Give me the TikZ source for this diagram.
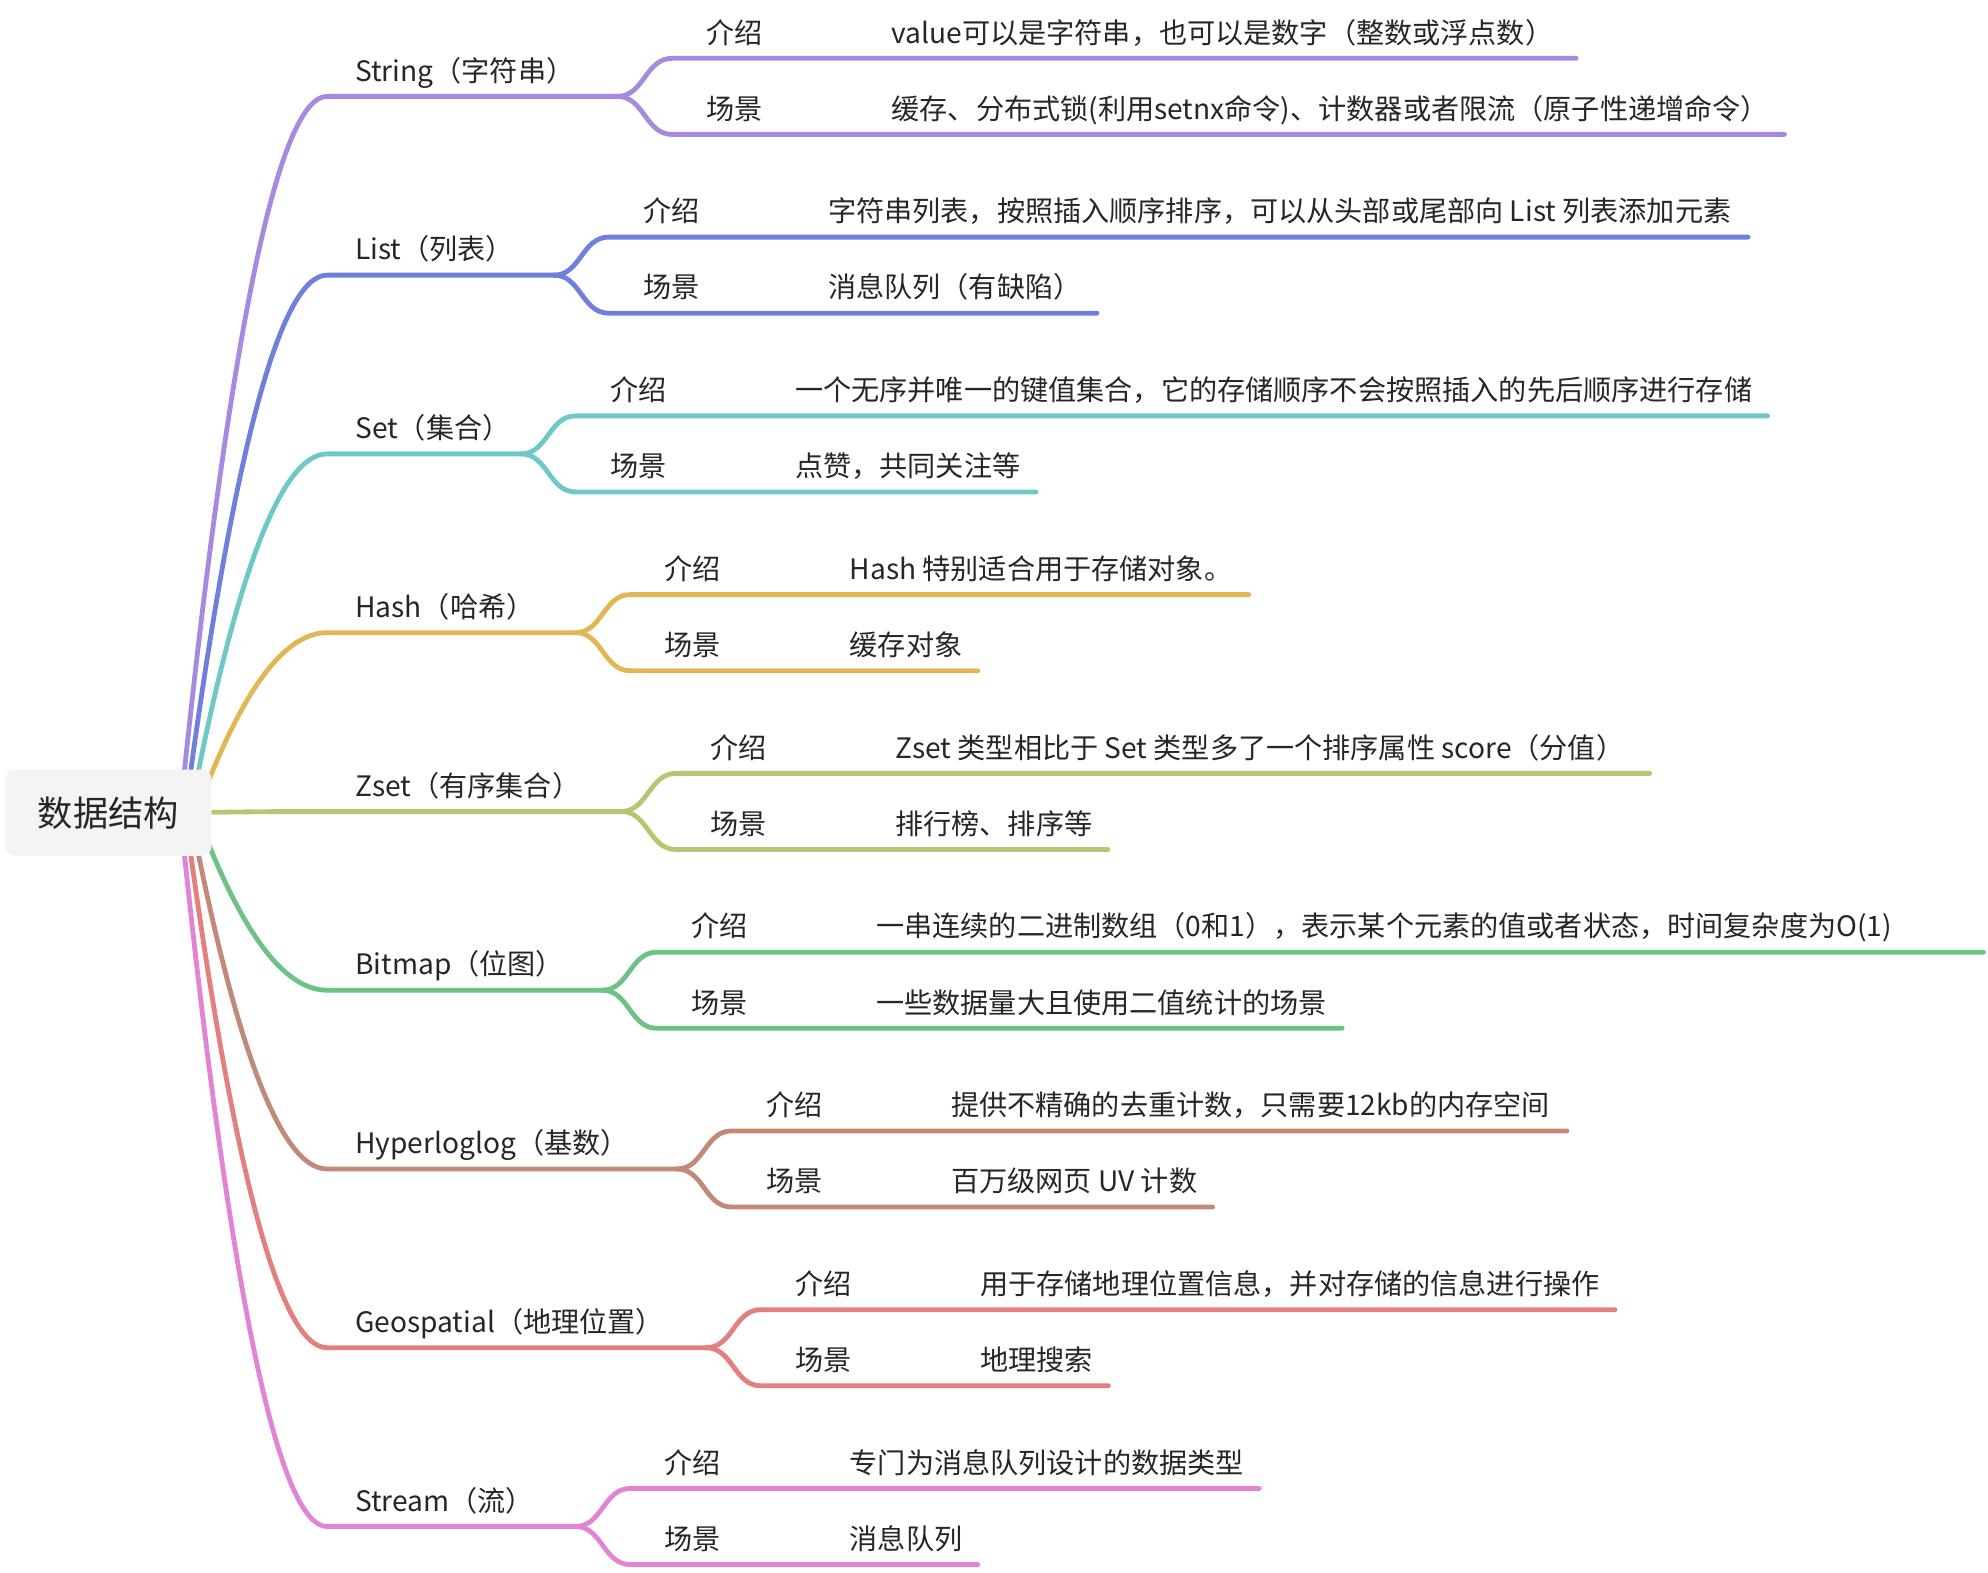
\documentclass[tikz,border=0pt]{standalone}
\usepackage{fontspec}
\setmainfont{Noto Sans CJK SC}
\usetikzlibrary{calc,backgrounds}
\definecolor{txt}{HTML}{262626}
\definecolor{rootfill}{HTML}{F4F4F4}
\definecolor{cString}{HTML}{A68AE0}
\definecolor{cList}{HTML}{6F7FDB}
\definecolor{cSet}{HTML}{6EC8C6}
\definecolor{cHash}{HTML}{E1B756}
\definecolor{cZset}{HTML}{B5C770}
\definecolor{cBitmap}{HTML}{6FC285}
\definecolor{cHyper}{HTML}{C28978}
\definecolor{cGeo}{HTML}{E47F7F}
\definecolor{cStream}{HTML}{E184D6}
\tikzset{
  mmtext/.style={text=txt, inner sep=0pt, font=\fontsize{22.2}{27}\selectfont},
  rootbox/.style={fill=rootfill, rounded corners=8pt, minimum width=163pt,
    minimum height=68pt, inner sep=0pt, text=txt, font=\fontsize{27.8}{32}\selectfont},
  mmline/.style={line width=3.8pt, line cap=round, line join=round},
}
% #1 index, #2 colour, #3 y of branch line, #4 start x inside root,
% #5 x of the 介绍/场景 labels, #6 branch text, #7 intro text, #8 scene text,
% #9 length of the intro line beyond its text
\newcommand\mmbranch[9]{%
  \node[mmtext, anchor=base west] (n#1) at (280,#3-12) {#6};
  \coordinate (f#1) at (#5-70,#3);
  \node[mmtext, anchor=base west] (a#1) at (#5,#3-42) {介绍};
  \node[mmtext, anchor=base west] (b#1) at (#5,#3+18) {场景};
  \node[mmtext, anchor=base west] (va#1) at ($(a#1.base west)+(146,0)$) {#7};
  \node[mmtext, anchor=base west] (vb#1) at ($(b#1.base west)+(146,0)$) {#8};
  \coordinate (s#1) at ($(root.center)+(#4-85.5,0)$);
  \coordinate (e#1) at (258,#3);
  \coordinate (ta#1) at ($(va#1.base east)+(#9,12)$);
  \coordinate (tb#1) at ($(vb#1.base east)+(12,12)$);
  \pgfmathsetmacro\mmcax{#4+(258-#4)/3}%
  \pgfmathsetmacro\mmcay{641+2*(#3-641)/3}%
  \pgfmathsetmacro\mmcbx{258-(258-#4)/3}%
  \begin{scope}[on background layer]
    \draw[mmline, #2] (s#1) .. controls (\mmcax,\mmcay) and (\mmcbx,#3) .. (e#1) -- (f#1);
  \end{scope}
  \draw[mmline, #2] (f#1) .. controls +(21,0) and +(-21,0) .. ($(f#1)+(43,-30)$) -- (ta#1);
  \draw[mmline, #2] (f#1) .. controls +(21,0) and +(-21,0) .. ($(f#1)+(43,30)$) -- (tb#1);
}
\begin{document}
\begin{tikzpicture}[x=1pt,y=-1pt]
  \useasboundingbox (0,0) rectangle (1568,1240);
  \node[rootbox] (root) at (85.5,641) {数据结构};
  \mmbranch{1}{cString}{76}{142}{557}{String（字符串）}{value可以是字符串，也可以是数字（整数或浮点数）}{缓存、分布式锁(利用setnx命令)、计数器或者限流（原子性递增命令）}{18}
  \mmbranch{2}{cList}{217}{146}{507}{List（列表）}{字符串列表，按照插入顺序排序，可以从头部或尾部向 List 列表添加元素}{消息队列（有缺陷）}{13}
  \mmbranch{3}{cSet}{358}{150}{481}{Set（集合）}{一个无序并唯一的键值集合，它的存储顺序不会按照插入的先后顺序进行存储}{点赞，共同关注等}{12}
  \mmbranch{4}{cHash}{499}{155}{524}{Hash（哈希）}{Hash 特别适合用于存储对象。}{缓存对象}{13}
  \mmbranch{5}{cZset}{640}{150}{560}{Zset（有序集合）}{Zset 类型相比于 Set 类型多了一个排序属性 score（分值）}{排行榜、排序等}{20}
  \mmbranch{6}{cBitmap}{781}{155}{545}{Bitmap（位图）}{一串连续的二进制数组（0和1），表示某个元素的值或者状态，时间复杂度为O(1)}{一些数据量大且使用二值统计的场景}{72}
  \mmbranch{7}{cHyper}{922}{150}{604}{Hyperloglog（基数）}{提供不精确的去重计数，只需要12kb的内存空间}{百万级网页 UV 计数}{13}
  \mmbranch{8}{cGeo}{1063}{146}{627}{Geospatial（地理位置）}{用于存储地理位置信息，并对存储的信息进行操作}{地理搜索}{12}
  \mmbranch{9}{cStream}{1204}{142}{524}{Stream（流）}{专门为消息队列设计的数据类型}{消息队列}{12}
\end{tikzpicture}
\end{document}
